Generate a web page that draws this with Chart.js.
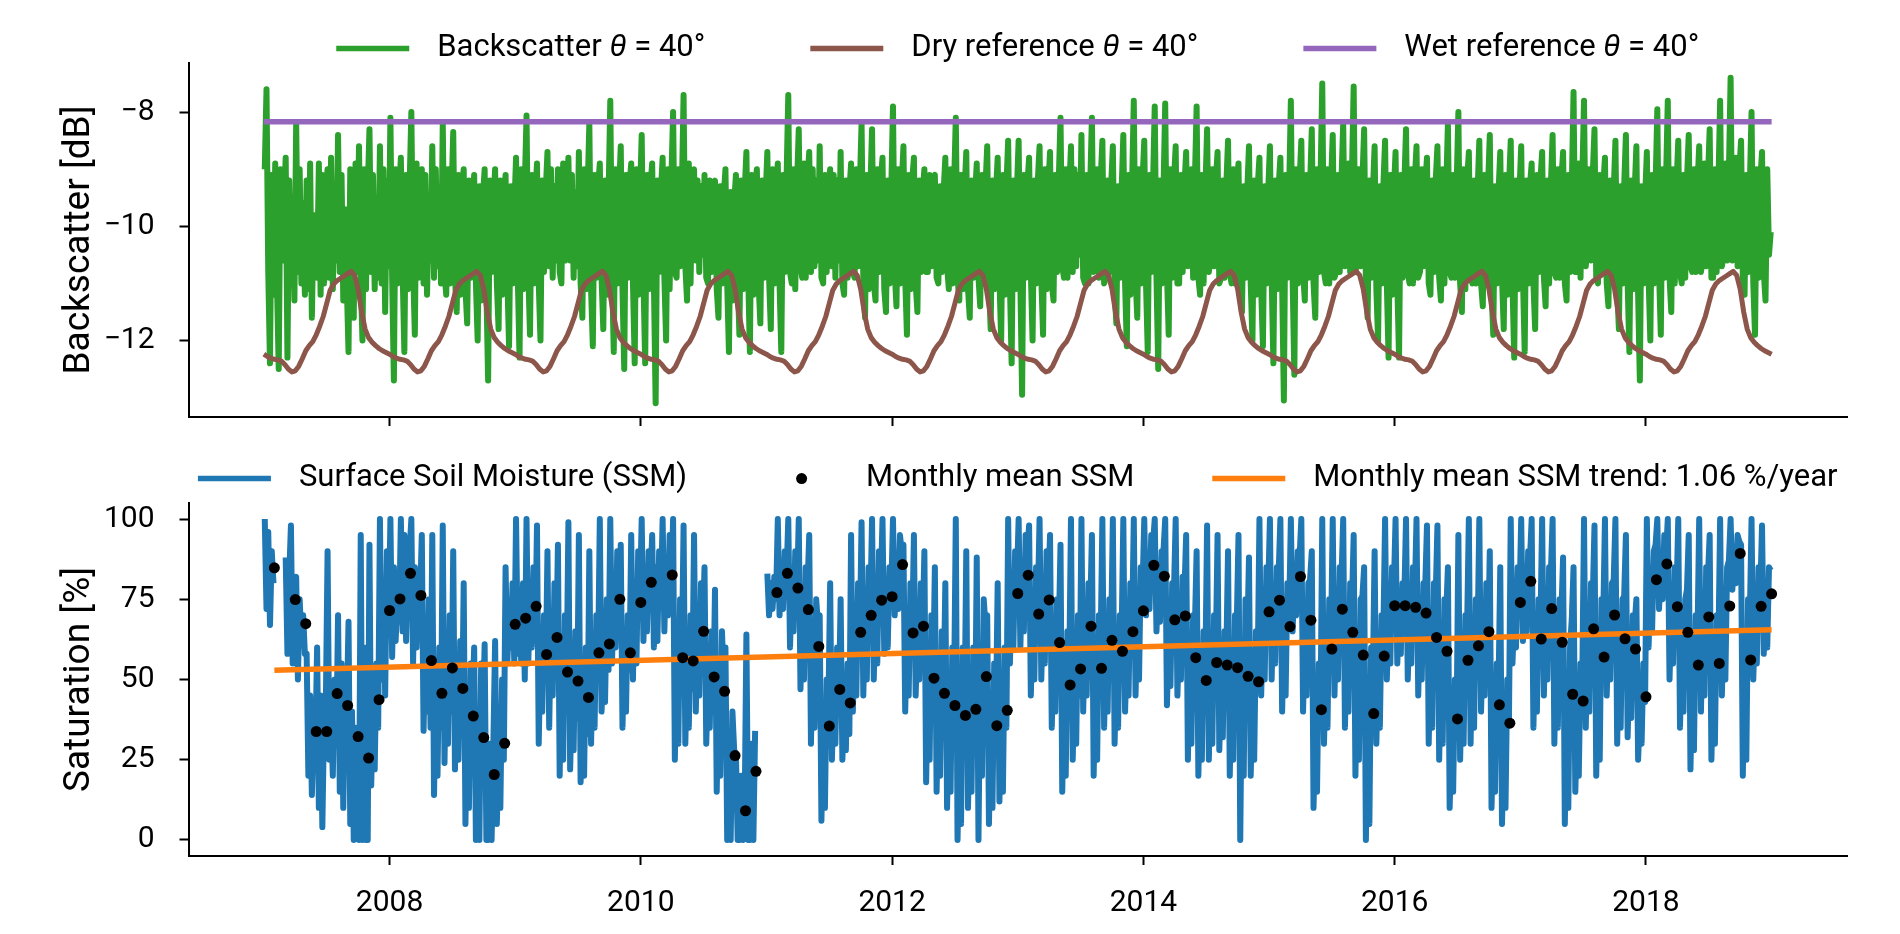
<!DOCTYPE html>
<html>
<head>
<meta charset="utf-8">
<script src="https://cdn.jsdelivr.net/npm/chart.js@4"></script>
<style>
  html, body { margin: 0; padding: 0; background: #fff; }
  canvas { position: absolute; left: 0; }
  #top { top: 0; }
  #bottom { top: 460px; }
</style>
</head>
<body>
<canvas id="top" width="1900" height="460"></canvas>
<canvas id="bottom" width="1900" height="474"></canvas>
<script>
// the daily series are sampled every ~5 days: 6 values per month, 2007-2018
const firstYear = 2007;
const perYear = 72;

const yearTicks = [2008, 2010, 2012, 2014, 2016, 2018];
const bsTicks = [-12, -10, -8];
const ssmTicks = [0, 25, 50, 75, 100];

// backscatter at 40 degrees [dB], one line per year
const backscatter = [
  -9.0,-7.6,-10.8,-12.4,-9.1,-11.2, -8.9,-11.0,-12.5,-9.0,-10.6,-9.6, -8.8,-12.3,-9.2,-10.9,-9.7,-11.3, -8.2,-10.8,-9.0,-11.0,-9.6,-11.2, -9.2,-11.1,-8.9,-11.6,-9.8,-10.7, -10.9,-8.9,-11.2,-9.1,-11.0,-9.4, -9.0,-10.9,-8.8,-11.1,-9.6,-10.6, -8.4,-10.8,-9.1,-11.3,-9.7,-11.0, -12.2,-9.0,-10.9,-11.6,-8.9,-10.8, -8.6,-10.9,-12.0,-9.0,-11.1,-9.4, -8.3,-10.8,-9.1,-11.1,-9.7,-10.9, -8.6,-11.0,-9.0,-11.5,-9.2,-10.7,
  -8.1,-10.9,-12.7,-9.0,-11.0,-9.4, -8.8,-10.8,-12.2,-9.1,-11.1,-9.3, -8.0,-10.7,-11.9,-8.9,-10.9,-9.4, -9.0,-11.0,-9.1,-11.2,-9.7,-10.6, -8.6,-10.9,-9.0,-10.7,-9.3,-11.0, -8.2,-10.8,-11.2,-9.0,-11.0,-9.5, -8.35,-10.9,-11.5,-9.1,-11.2,-9.3, -9.0,-11.1,-11.7,-9.2,-10.9,-9.6, -9.1,-11.0,-12.0,-9.3,-11.3,-9.5, -9.0,-11.1,-12.7,-9.2,-10.8,-9.6, -9.0,-11.0,-11.8,-9.2,-11.2,-9.5, -9.1,-10.9,-12.1,-9.3,-11.0,-9.7,
  -8.8,-10.9,-12.3,-9.0,-11.1,-9.3, -8.06,-10.8,-11.9,-9.1,-11.0,-9.5, -8.9,-11.0,-12.0,-9.2,-10.8,-9.4, -8.7,-10.7,-9.0,-10.9,-9.3,-10.6, -9.0,-10.8,-11.0,-8.9,-10.6,-9.4, -8.8,-10.6,-9.1,-10.9,-9.4,-10.7, -8.7,-11.0,-11.6,-9.0,-11.1,-9.4, -8.2,-11.1,-12.1,-9.1,-10.9,-9.3, -8.9,-10.9,-11.8,-9.2,-11.2,-9.5, -7.8,-10.8,-12.2,-9.0,-11.0,-9.4, -8.6,-11.1,-12.5,-9.1,-10.9,-9.3, -8.9,-11.0,-12.4,-9.0,-11.2,-9.5,
  -8.4,-10.9,-12.4,-9.1,-11.1,-9.3, -8.9,-11.0,-13.1,-9.2,-10.8,-9.4, -8.8,-10.9,-12.0,-9.0,-11.1,-9.2, -8.0,-10.8,-10.9,-9.0,-10.7,-9.4, -7.7,-10.7,-11.3,-8.9,-11.0,-9.2, -9.0,-10.6,-9.2,-10.8,-9.3,-10.5, -9.1,-10.9,-11.0,-9.2,-10.8,-9.4, -9.2,-11.1,-11.6,-9.3,-11.0,-9.5, -9.0,-11.0,-12.2,-9.4,-11.3,-9.6, -9.1,-10.9,-11.9,-9.2,-11.1,-9.4, -8.7,-10.8,-12.2,-9.1,-11.2,-9.3, -9.0,-11.0,-11.7,-9.2,-10.9,-9.5,
  -8.7,-10.9,-11.8,-9.0,-11.0,-9.3, -8.9,-11.0,-12.2,-9.1,-10.8,-9.2, -7.7,-10.8,-11.0,-9.0,-11.1,-9.3, -8.3,-10.7,-10.9,-8.9,-10.9,-9.2, -8.7,-10.8,-9.0,-10.7,-9.2,-10.6, -8.6,-10.9,-11.0,-9.1,-10.8,-9.3, -9.0,-10.7,-9.1,-10.9,-9.2,-10.6, -8.7,-11.0,-11.2,-9.2,-10.9,-9.4, -8.9,-10.8,-10.9,-9.0,-10.7,-9.3, -8.2,-10.9,-11.6,-9.1,-11.1,-9.4, -8.3,-11.0,-11.3,-9.0,-10.8,-9.2, -8.8,-11.1,-11.5,-9.2,-11.0,-9.4,
  -7.9,-10.8,-11.4,-9.0,-11.0,-9.3, -8.6,-10.9,-11.9,-9.1,-11.1,-9.2, -8.8,-11.0,-11.5,-9.2,-10.8,-9.4, -9.0,-10.8,-10.8,-9.1,-10.7,-9.2, -9.1,-10.9,-11.0,-9.3,-10.8,-9.4, -8.8,-10.7,-11.1,-9.0,-11.0,-9.3, -8.1,-10.9,-11.3,-9.1,-11.1,-9.4, -8.7,-11.1,-11.6,-9.2,-10.9,-9.5, -8.9,-10.9,-11.4,-9.1,-11.0,-9.3, -8.6,-11.0,-11.8,-9.2,-11.1,-9.4, -8.8,-10.9,-12.0,-9.1,-11.2,-9.3, -8.5,-11.0,-12.4,-9.2,-11.1,-9.4,
  -8.5,-11.0,-12.95,-9.1,-10.9,-9.3, -8.8,-10.8,-12.0,-9.2,-11.0,-9.2, -8.6,-10.9,-11.9,-9.0,-11.1,-9.3, -8.7,-11.0,-11.3,-9.1,-10.8,-9.2, -8.1,-10.7,-10.9,-9.0,-10.9,-9.4, -8.6,-10.8,-9.0,-10.7,-9.1,-10.5, -8.4,-10.9,-11.0,-9.1,-11.0,-9.3, -8.1,-10.8,-10.7,-9.0,-10.9,-9.2, -8.5,-11.0,-10.9,-9.2,-10.8,-9.3, -8.6,-11.1,-11.7,-9.3,-10.9,-9.4, -8.4,-11.0,-12.1,-9.1,-11.2,-9.3, -7.8,-10.9,-11.6,-9.0,-11.0,-9.2,
  -8.5,-11.0,-12.2,-9.1,-10.8,-9.3, -7.9,-10.9,-12.5,-9.2,-11.0,-9.4, -7.85,-10.8,-11.9,-9.0,-10.9,-9.2, -8.6,-11.0,-11.0,-9.1,-10.8,-9.3, -8.7,-10.7,-10.6,-9.0,-10.9,-9.2, -7.9,-10.9,-11.2,-9.1,-11.0,-9.4, -8.3,-10.8,-10.5,-9.0,-10.7,-9.2, -8.7,-11.0,-10.9,-9.2,-10.9,-9.3, -8.5,-10.8,-11.0,-9.0,-11.0,-9.2, -8.9,-11.1,-11.5,-9.3,-10.9,-9.4, -8.6,-11.0,-12.0,-9.2,-11.2,-9.3, -8.8,-11.1,-12.1,-9.3,-11.0,-9.4,
  -8.6,-10.9,-12.4,-9.2,-11.1,-9.3, -8.8,-11.0,-13.05,-9.1,-10.9,-9.4, -7.8,-10.9,-12.6,-9.0,-11.0,-9.2, -8.5,-10.8,-11.3,-9.1,-10.9,-9.3, -8.3,-11.0,-11.6,-9.0,-10.8,-9.2, -7.5,-10.8,-11.0,-9.0,-11.0,-9.3, -8.4,-10.9,-10.8,-9.1,-10.8,-9.2, -8.2,-10.7,-10.5,-8.9,-10.8,-9.1, -7.55,-10.8,-10.6,-9.0,-10.7,-9.2, -8.3,-11.0,-11.6,-9.2,-10.9,-9.4, -8.6,-11.1,-12.0,-9.3,-11.0,-9.3, -8.5,-11.0,-12.3,-9.1,-11.2,-9.4,
  -8.7,-11.0,-12.3,-9.1,-10.9,-9.3, -8.3,-10.8,-11.0,-9.0,-11.0,-9.2, -8.6,-10.9,-10.8,-9.0,-10.7,-9.3, -8.8,-11.0,-11.2,-9.2,-10.8,-9.2, -8.6,-10.9,-11.3,-9.0,-11.0,-9.4, -8.2,-10.8,-10.9,-9.1,-10.9,-9.3, -8.0,-11.0,-11.5,-9.0,-11.1,-9.2, -8.7,-10.9,-11.0,-9.2,-11.0,-9.4, -8.5,-11.0,-11.4,-9.1,-10.9,-9.3, -8.4,-11.1,-11.9,-9.3,-11.0,-9.4, -8.7,-10.9,-11.8,-9.1,-11.2,-9.3, -8.5,-11.0,-12.3,-9.2,-11.1,-9.4,
  -8.6,-10.9,-12.2,-9.2,-11.0,-9.3, -8.9,-11.0,-11.8,-9.1,-10.8,-9.2, -8.7,-10.9,-11.4,-9.2,-11.0,-9.3, -8.4,-10.8,-10.9,-9.0,-10.9,-9.2, -8.7,-11.0,-11.3,-9.1,-10.8,-9.3, -7.65,-10.8,-10.8,-8.9,-10.9,-9.2, -7.8,-10.7,-10.3,-9.0,-10.6,-9.1, -8.3,-10.9,-11.0,-9.1,-10.8,-9.3, -8.8,-11.0,-11.4,-9.2,-10.9,-9.4, -8.5,-11.1,-11.8,-9.3,-11.0,-9.3, -8.4,-11.0,-12.2,-9.2,-11.1,-9.4, -8.6,-11.2,-12.7,-9.3,-11.0,-9.5,
  -8.7,-10.9,-12.0,-9.1,-11.0,-9.3, -7.95,-10.8,-11.9,-9.0,-10.9,-9.2, -7.8,-10.9,-11.5,-9.0,-11.0,-9.3, -8.5,-10.8,-11.0,-9.1,-10.9,-9.2, -8.4,-10.7,-10.8,-9.0,-10.8,-9.3, -8.6,-10.8,-10.6,-8.9,-10.7,-9.2, -8.3,-10.9,-10.9,-9.0,-10.8,-9.3, -7.8,-10.7,-10.5,-8.9,-10.6,-9.1, -7.4,-10.6,-10.2,-8.8,-10.7,-9.0, -8.5,-10.9,-11.2,-9.1,-10.8,-9.3, -8.0,-11.0,-11.9,-9.0,-10.9,-9.2, -8.7,-10.8,-11.3,-9.0,-10.5,-10.1
];

// dry reference climatology, one value every ~10 days from 1 January
const dryRefYear = [
  -12.24, -12.28, -12.31, -12.33, -12.34, -12.36, -12.42, -12.50, -12.55, -12.53, -12.45, -12.32,
  -12.18, -12.09, -12.02, -11.90, -11.75, -11.58, -11.35, -11.12, -11.01, -10.95, -10.91, -10.87,
  -10.83, -10.79, -10.86, -11.10, -11.50, -11.80, -11.95, -12.03, -12.09, -12.14, -12.18, -12.21
];
const wetRef = -8.17;

// surface soil moisture [%], one line per year (null = no data)
const ssm = [
  100,72,96,67,90,80, null,null,null,null,null,null, 88,58,82,98,55,80, 82,50,75,62,70,58, 58,20,45,14,35,30, 60,10,45,4,38,42, 90,25,40,20,50,30, 70,15,55,10,46,40, 68,5,40,0,35,30, 0,95,0,60,0,0, 92,17,40,22,55,35, 100,50,80,45,90,65,
  100,57,85,62,75,68, 100,65,95,62,88,90, 100,55,85,60,80,75, 95,34,60,40,75,35, 95,14,50,20,60,35, 98,24,60,30,70,40, 90,22,50,25,62,35, 80,5,40,10,55,42, 60,0,40,0,55,35, 61,0,0,30,0,30, 62,5,30,10,50,25, 85,55,70,60,80,55,
  100,58,70,55,80,50, 100,55,75,60,85,62, 98,30,60,40,70,50, 90,35,70,45,80,58, 92,20,55,25,70,50, 99,22,45,28,65,38, 95,18,40,20,60,33, 90,30,60,35,70,55, 100,40,55,43,75,53, 100,55,80,60,90,65, 92,35,60,40,70,53, 95,50,80,55,90,74,
  100,62,85,65,90,80, 95,60,85,62,90,75, 100,65,88,70,95,78, 100,25,55,30,75,56, 98,30,55,35,70,47, 95,40,65,45,80,65, 85,30,50,35,65,40, 78,15,50,20,65,50, 60,0,30,0,40,28, 27,0,0,20,0,8, 64,0,0,30,0,34, null,null,null,null,null,null,
  83,70,80,72,82,75, 100,70,85,72,90,82, 100,60,80,65,90,76, 100,47,70,50,85,78, 95,30,60,35,75,67, 70,6,35,10,50,42, 80,25,45,30,60,42, 75,25,40,28,55,33, 95,40,65,45,80,63, 99,45,70,50,85,71, 100,50,75,55,90,78, 100,58,75,60,85,77,
  100,70,88,72,95,90, 92,40,65,45,80,65, 95,45,65,50,80,65, 90,18,50,25,70,49, 85,15,45,20,65,44, 80,10,40,15,60,46, 100,0,30,5,60,38, 90,10,40,15,60,29, 88,0,55,20,75,67, 70,5,35,10,55,39, 80,12,40,15,60,35, 100,55,75,60,90,80,
  100,60,85,65,95,90, 98,45,70,50,85,74, 100,50,75,55,90,79, 95,35,60,40,75,64, 92,15,45,20,65,53, 100,25,50,30,70,45, 100,40,65,45,80,70, 95,20,50,25,70,61, 100,35,60,40,75,63, 100,30,55,35,70,63, 100,40,60,45,80,65, 100,45,70,50,85,78,
  100,70,85,72,95,92, 100,65,80,68,90,90, 100,42,65,48,80,77, 100,45,65,50,82,77, 95,25,55,30,70,66, 90,20,45,25,65,53, 98,25,50,30,70,59, 95,28,50,32,65,57, 90,20,50,25,70,67, 95,0,55,20,75,61, 88,20,45,25,65,53, 100,45,70,50,85,77,
  100,50,75,55,85,83, 100,40,65,45,80,69, 100,65,80,70,90,88, 100,40,65,45,80,81, 90,10,35,15,55,39, 100,30,55,35,75,62, 100,45,70,50,85,81, 100,35,60,40,80,73, 95,20,55,25,75,76, 85,0,35,5,60,51, 90,30,55,35,70,64, 100,50,70,55,85,78,
  100,55,70,58,80,75, 100,50,70,55,85,75, 100,45,70,50,80,79, 98,30,60,35,80,76, 98,25,55,30,75,70, 85,10,30,15,50,36, 95,25,50,30,70,66, 100,30,60,35,75,63, 100,40,65,45,80,59, 90,10,35,15,55,47, 85,5,30,10,50,38, 100,55,70,60,85,74,
  100,62,80,65,90,87, 100,35,60,40,75,66, 100,45,70,50,85,83, 100,30,60,35,75,70, 88,5,40,10,60,69, 85,15,35,20,55,50, 100,35,65,40,80,75, 98,20,55,25,75,69, 100,45,65,50,80,81, 100,30,60,35,75,76, 95,32,55,38,70,67, 75,25,40,30,55,43,
  100,60,80,65,90,92, 100,72,85,75,95,89, 100,50,70,55,85,76, 100,35,60,40,75,78, 95,22,50,28,70,62, 100,40,65,45,85,82, 95,25,50,30,70,60, 100,45,70,50,85,87, 100,78,90,80,95,93, 92,20,55,25,75,69, 100,50,70,55,85,77, 98,58,75,60,85,84
];

// monthly mean SSM [%], January 2007 to December 2018
const monthlySsm = [
  84.8, null, 74.9, 67.4, 33.8, 33.8, 45.6, 41.9, 32.2, 25.5, 43.7, 71.5,
  75.1, 83.1, 76.2, 55.9, 45.7, 53.6, 47.2, 38.6, 31.9, 20.4, 30.1, 67.2,
  69.1, 72.8, 57.8, 63.1, 52.3, 49.5, 44.4, 58.3, 61.1, 75.0, 58.3, 74.0,
  80.3, null, 82.6, 56.8, 55.8, 65.0, 50.8, 46.3, 26.3, 9.1, 21.4, null,
  77.1, 83.1, 78.5, 71.8, 60.3, 35.5, 46.9, 42.7, 64.7, 70.0, 74.7, 75.8,
  85.8, 64.5, 66.6, 50.4, 45.7, 41.9, 38.8, 40.7, 50.9, 35.6, 40.4, 76.8,
  82.5, 70.4, 74.8, 61.5, 48.3, 53.3, 66.6, 53.5, 62.2, 58.8, 64.9, 71.4,
  85.6, 82.2, 68.6, 69.8, 56.8, 49.7, 55.3, 54.5, 53.7, 51.0, 49.3, 71.1,
  74.7, 66.5, 82.1, 68.5, 40.6, 59.5, 71.9, 64.7, 57.6, 39.4, 57.3, 73.0,
  73.0, 72.5, 70.7, 63.1, 58.8, 37.7, 56.0, 60.5, 64.9, 42.1, 36.4, 74.0,
  80.6, 62.6, 72.1, 61.6, 45.4, 43.3, 65.8, 57.0, 70.1, 62.7, 59.5, 44.6,
  81.1, 86.0, 72.7, 64.7, 54.5, 69.5, 55.0, 72.9, 89.3, 56.1, 72.8, 76.7
];
const trendStart = 52.9;
const trendEnd = 65.5;

const FONT = 'Roboto, "Noto Sans", sans-serif';
const nYears = backscatter.length / perYear;
const dryPerYear = dryRefYear.length;

const sampled = vals => vals.map((v, i) => ({ x: firstYear + (i + 0.5) / perYear, y: v }));
const dryPoints = [];
for (let i = 0; i <= nYears * dryPerYear; i++) {
  dryPoints.push({ x: firstYear + i / dryPerYear, y: dryRefYear[i % dryPerYear] });
}
const monthPoints = monthlySsm.map((v, k) => ({ x: firstYear + (k + 1) / 12, y: v }));

// matplotlib-like row legend, centred over the axes
const rowLegend = {
  id: 'rowLegend',
  afterDraw(chart, args, opts) {
    const { ctx, chartArea } = chart;
    const upright = `${opts.size}px ${FONT}`;
    const slanted = `italic ${opts.size}px ${FONT}`;
    ctx.save();
    ctx.textBaseline = 'middle';
    const entries = chart.data.datasets.map(ds => {
      const [head, tail] = ds.label.split('θ');
      const parts = tail === undefined ? [[head, upright]] : [[head, upright], ['θ', slanted], [tail, upright]];
      let width = 0;
      parts.forEach(([t, f]) => { ctx.font = f; width += ctx.measureText(t).width; });
      return { ds, parts, width };
    });
    const total = entries.reduce((w, e) => w + opts.handle + opts.gap + e.width, 0) + opts.colGap * (entries.length - 1);
    let x = (chartArea.left + chartArea.right - total) / 2;
    entries.forEach(e => {
      if (e.ds.showLine === false) {
        ctx.fillStyle = e.ds.backgroundColor;
        ctx.beginPath();
        ctx.arc(x + opts.handle / 2, opts.y, e.ds.pointRadius, 0, Math.PI * 2);
        ctx.fill();
      } else {
        ctx.strokeStyle = e.ds.borderColor;
        ctx.lineWidth = 5.5;
        ctx.beginPath();
        ctx.moveTo(x, opts.y);
        ctx.lineTo(x + opts.handle, opts.y);
        ctx.stroke();
      }
      x += opts.handle + opts.gap;
      ctx.fillStyle = '#000';
      e.parts.forEach(([t, f]) => { ctx.font = f; ctx.fillText(t, x, opts.y); x += ctx.measureText(t).width; });
      x += opts.colGap;
    });
    ctx.restore();
  }
};

function xAxis(showLabels, height) {
  return {
    type: 'linear', min: 2006.4, max: 2019.6,
    afterBuildTicks: s => { s.ticks = yearTicks.map(v => ({ value: v })); },
    afterFit: s => { s.height = height; },
    border: { display: true, color: '#000', width: 2 },
    grid: { drawOnChartArea: false, drawTicks: true, tickLength: 9, tickWidth: 2, tickColor: '#000' },
    ticks: { display: showLabels, padding: 20, color: '#000', maxRotation: 0, font: { family: FONT, size: 30 }, callback: v => String(v) }
  };
}

function yAxis(min, max, ticks, title) {
  return {
    type: 'linear', min, max,
    afterBuildTicks: s => { s.ticks = ticks.map(v => ({ value: v })); },
    afterFit: s => { s.width = 188.5; },
    border: { display: true, color: '#000', width: 2 },
    grid: { drawOnChartArea: false, drawTicks: true, tickLength: 9, tickWidth: 2, tickColor: '#000' },
    ticks: { padding: 25, color: '#000', font: { family: FONT, size: 30 }, callback: v => v < 0 ? '\u2212' + Math.abs(v) : String(v) },
    title: { display: true, text: title, color: '#000', font: { family: FONT, size: 37 }, padding: { top: 58, bottom: 0 } }
  };
}

const lineStyle = { pointRadius: 0, borderJoinStyle: 'round', tension: 0, fill: false };
const angle = 'θ = 40°';

new Chart(document.getElementById('top'), {
  type: 'line',
  data: {
    datasets: [
      { label: 'Backscatter ' + angle, data: sampled(backscatter), borderColor: '#2ca02c', borderWidth: 6, order: 3, ...lineStyle },
      { label: 'Dry reference ' + angle, data: dryPoints, borderColor: '#8c564b', borderWidth: 5, order: 2, ...lineStyle },
      { label: 'Wet reference ' + angle, data: [{ x: firstYear, y: wetRef }, { x: firstYear + nYears, y: wetRef }], borderColor: '#9467bd', borderWidth: 5.5, order: 1, ...lineStyle }
    ]
  },
  options: {
    responsive: false, animation: false, devicePixelRatio: 1,
    layout: { padding: { left: 0, right: 53, top: 63, bottom: 0 } },
    scales: { x: xAxis(false, 38), y: yAxis(-13.34, -7.14, bsTicks, 'Backscatter [dB]') },
    plugins: {
      legend: { display: false }, tooltip: { enabled: false },
      rowLegend: { y: 48.5, size: 31, handle: 73, gap: 28, colGap: 105 }
    }
  },
  plugins: [rowLegend]
});

new Chart(document.getElementById('bottom'), {
  type: 'line',
  data: {
    datasets: [
      { label: 'Surface Soil Moisture (SSM)', data: sampled(ssm), borderColor: '#1f77b4', borderWidth: 6, order: 3, ...lineStyle },
      { label: 'Monthly mean SSM', data: monthPoints, showLine: false, pointRadius: 5.5, pointBorderWidth: 0, backgroundColor: '#000', borderColor: '#000', order: 1 },
      { label: 'Monthly mean SSM trend: 1.06 %/year', data: [{ x: firstYear + 1 / 12, y: trendStart }, { x: firstYear + nYears, y: trendEnd }], borderColor: '#ff7f0e', borderWidth: 5.5, order: 2, ...lineStyle }
    ]
  },
  options: {
    responsive: false, animation: false, devicePixelRatio: 1,
    layout: { padding: { left: 0, right: 53, top: 37, bottom: 0 } },
    scales: { x: xAxis(true, 78), y: yAxis(-5, 105, ssmTicks, 'Saturation [%]') },
    plugins: {
      legend: { display: false }, tooltip: { enabled: false },
      rowLegend: { y: 18.6, size: 31, handle: 73, gap: 28, colGap: 78 }
    }
  },
  plugins: [rowLegend]
});
</script>
</body>
</html>
